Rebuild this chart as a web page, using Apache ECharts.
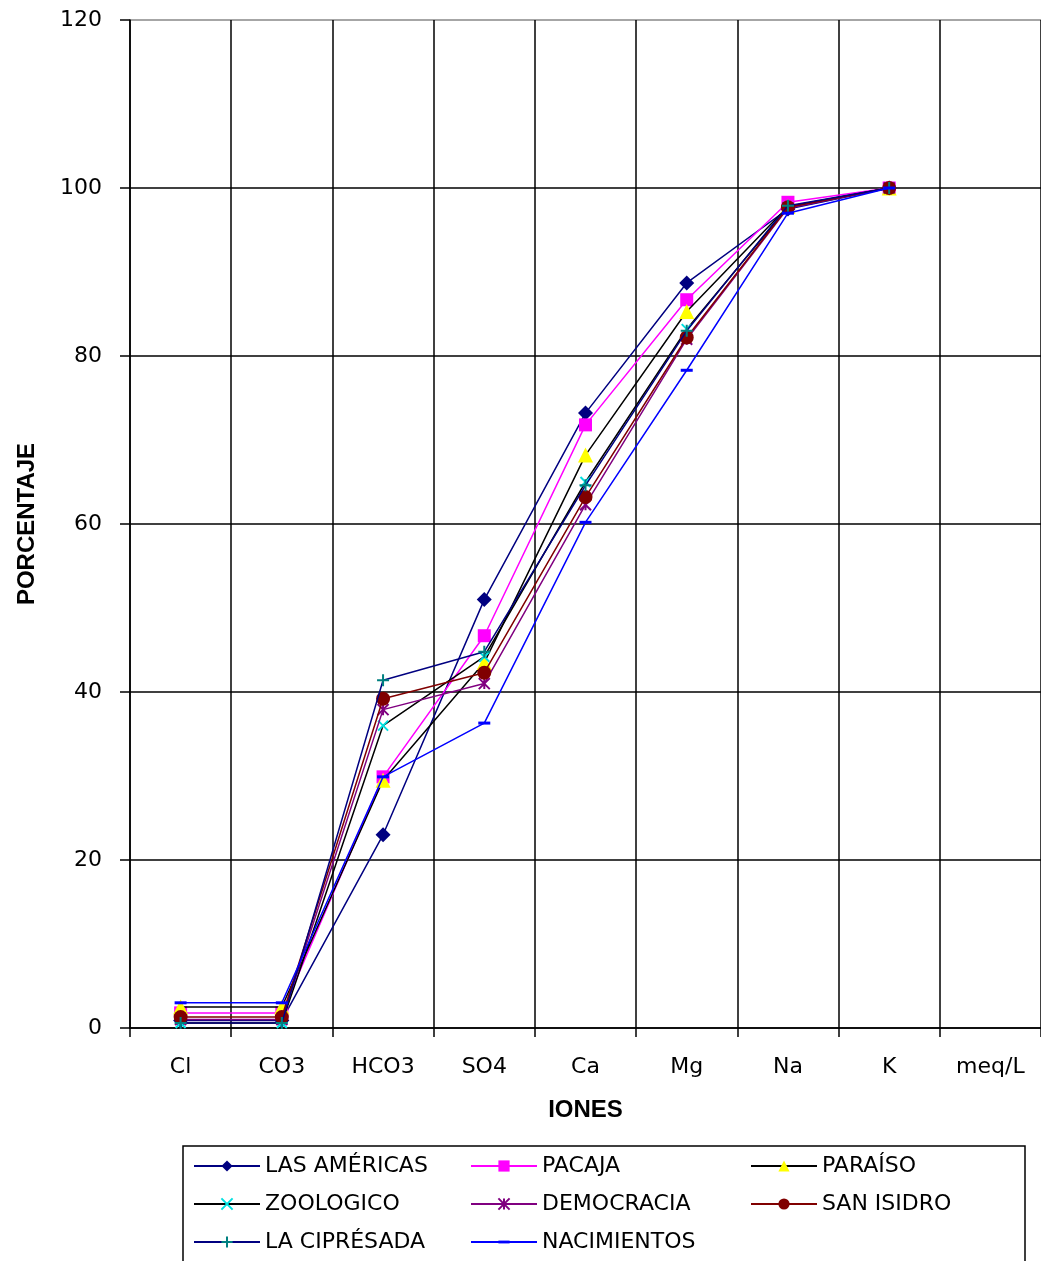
<!DOCTYPE html>
<html>
<head>
<meta charset="utf-8">
<script src="https://cdn.jsdelivr.net/npm/echarts@6/dist/echarts.min.js"></script>
<style>
html,body{margin:0;padding:0;background:#fff;}
#chart{width:1041px;height:1261px;}
</style>
</head>
<body>
<div id="chart"></div>
<script>
// Categories (ions) and tick labels
const categories = ['Cl', 'CO3', 'HCO3', 'SO4', 'Ca', 'Mg', 'Na', 'K', 'meq/L'];
const yTicks = [0, 20, 40, 60, 80, 100, 120];

// Cumulative percentages per site (Cl, CO3, HCO3, SO4, Ca, Mg, Na, K)
const lasAmericas  = [0.9, 0.9, 23.0, 51.0, 73.2, 88.7, 97.5, 100];
const pacaja       = [1.8, 1.8, 29.9, 46.7, 71.8, 86.7, 98.3, 100];
const paraiso      = [2.5, 2.5, 29.5, 43.5, 68.2, 85.3, 97.8, 100];
const zoologico    = [0.6, 0.6, 36.0, 44.2, 65.0, 83.2, 97.7, 100];
const democracia   = [1.0, 1.0, 37.9, 41.0, 62.3, 82.0, 97.6, 100];
const sanIsidro    = [1.3, 1.3, 39.2, 42.3, 63.2, 82.2, 97.7, 100];
const laCipresada  = [0.6, 0.6, 41.4, 44.8, 64.6, 83.0, 97.9, 100];
const nacimientos  = [3.0, 3.0, 29.9, 36.3, 60.2, 78.3, 97.0, 100];

const seriesNames = ['LAS AMÉRICAS', 'PACAJA', 'PARAÍSO', 'ZOOLOGICO', 'DEMOCRACIA', 'SAN ISIDRO', 'LA CIPRÉSADA', 'NACIMIENTOS'];
const seriesData = [lasAmericas, pacaja, paraiso, zoologico, democracia, sanIsidro, laCipresada, nacimientos];

const styles = [
  {line:'#000080', sym:'diamond', size:15, fill:'#000080', border:'#000080', bw:0},
  {line:'#FF00FF', sym:'rect', size:13, fill:'#FF00FF', border:'#FF00FF', bw:0},
  {line:'#000000', sym:'triangle', size:15, fill:'#FFFF00', border:'#FFFF00', bw:0},
  {line:'#000000', sym:'path://M0,0L10,10M10,0L0,10', size:10, fill:'none', border:'#00E0E0', bw:2},
  {line:'#800080', sym:'path://M0,0L10,10M10,0L0,10M5,0L5,10', size:11, fill:'none', border:'#800080', bw:2},
  {line:'#800000', sym:'circle', size:14, fill:'#800000', border:'#800000', bw:0},
  {line:'#000080', sym:'path://M0,5L10,5M5,0L5,10', size:12, fill:'none', border:'#008080', bw:2},
  {line:'#0000FF', sym:'path://M0,0L0,0M0,4.5L12,4.5L12,7.5L0,7.5Z M12,12L12,12', size:12, fill:'#0000FF', border:'#0000FF', bw:0}
];

const FONT = 'DejaVu Sans';

const series = seriesNames.map((name, i) => ({
  name: name,
  type: 'line',
  data: seriesData[i],
  symbol: styles[i].sym,
  symbolSize: styles[i].size,
  symbolKeepAspect: true,
  showAllSymbol: true,
  lineStyle: {color: styles[i].line, width: 1.5},
  itemStyle: {color: styles[i].fill === 'none' ? styles[i].border : styles[i].fill,
              borderColor: styles[i].border, borderWidth: styles[i].bw},
  emphasis: {disabled: true},
  animation: false,
  z: 2 + i
}));

// legend grid: 3 columns x 3 rows, one legend per item so columns align
const legendCols = [193, 470, 750];
const legendRows = [1155, 1193, 1231];
const legends = seriesNames.map((name, i) => ({
  orient: 'horizontal',
  left: legendCols[i % 3],
  top: legendRows[Math.floor(i / 3)],
  itemWidth: 66,
  itemHeight: 14,
  padding: 0,
  textStyle: {fontFamily: FONT, fontSize: 22, color: '#000'},
  selectedMode: false,
  data: [name]
}));

const chart = echarts.init(document.getElementById('chart'), null, {renderer: 'canvas'});
chart.setOption({
  backgroundColor: '#fff',
  animation: false,
  grid: {left: 130, right: 0, top: 20, bottom: 233, containLabel: false, outerBoundsMode: 'none'},
  xAxis: {
    type: 'category',
    data: categories,
    boundaryGap: true,
    name: 'IONES',
    nameLocation: 'middle',
    nameGap: 70,
    nameTextStyle: {fontFamily: 'Liberation Sans Narrow, Liberation Sans', fontWeight: 'bold', fontSize: 24, color: '#000'},
    axisLine: {lineStyle: {color: '#000', width: 1.5}},
    axisTick: {show: true, inside: false, length: 9, interval: 0, lineStyle: {color: '#000', width: 1.5}},
    axisLabel: {interval: 0, margin: 28, fontFamily: FONT, fontSize: 22, color: '#000'},
    splitLine: {show: true, interval: 0, lineStyle: {color: '#000', width: 1.5}}
  },
  yAxis: {
    type: 'value',
    min: yTicks[0],
    max: yTicks[yTicks.length - 1],
    interval: 20,
    name: 'PORCENTAJE',
    nameLocation: 'middle',
    nameGap: 91,
    nameRotate: 90,
    nameTextStyle: {fontFamily: 'Liberation Sans Narrow, Liberation Sans', fontWeight: 'bold', fontSize: 24, color: '#000'},
    axisLine: {show: true, lineStyle: {color: '#000', width: 1.5}},
    axisTick: {show: true, inside: false, length: 10, lineStyle: {color: '#000', width: 1.5}},
    axisLabel: {margin: 28, fontFamily: FONT, fontSize: 22, color: '#000'},
    splitLine: {show: true, lineStyle: {color: ['#000','#000','#000','#000','#000','#000','#888'], width: 1.5}}
  },
  legend: legends,
  graphic: [{
    type: 'rect',
    shape: {x: 183, y: 1146, width: 842, height: 140},
    style: {fill: 'none', stroke: '#000', lineWidth: 1.5},
    silent: true
  }],
  series: series
});
</script>
</body>
</html>
